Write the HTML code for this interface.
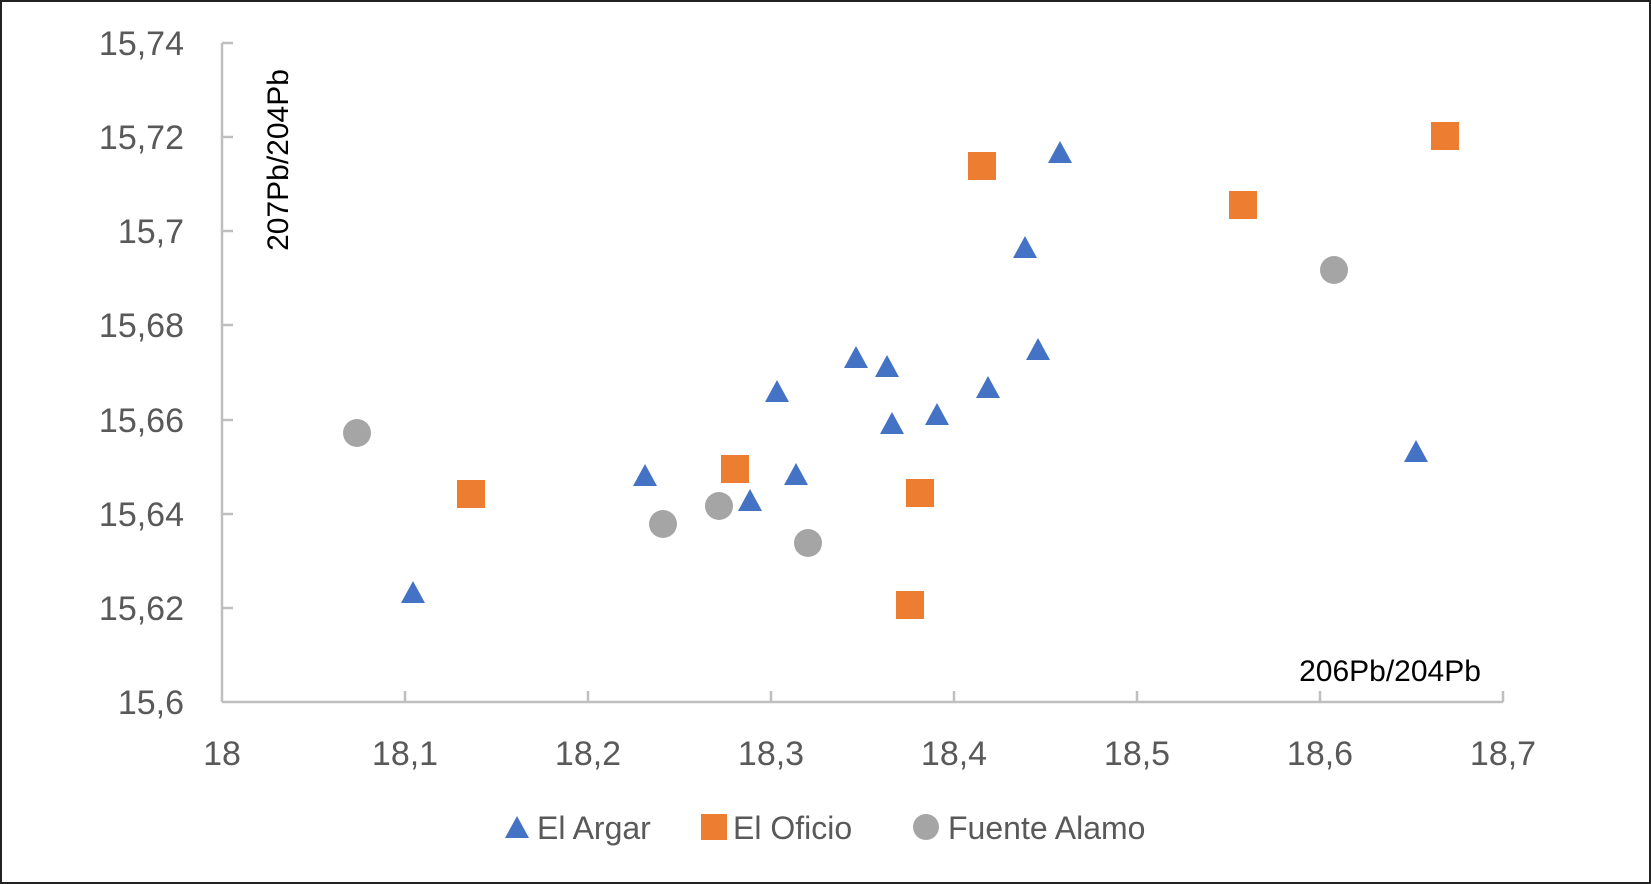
<!DOCTYPE html>
<html><head><style>
html,body{margin:0;padding:0;background:#fff}
svg{display:block}
</style></head><body>
<svg width="1651" height="884" viewBox="0 0 1651 884" xmlns="http://www.w3.org/2000/svg">
<rect x="1" y="1" width="1649" height="882" fill="#fff" stroke="#222" stroke-width="2"/>
<g stroke="#bfbfbf" stroke-width="2.5" fill="none">
<line x1="222" y1="43" x2="222" y2="702"/>
<line x1="222" y1="702" x2="1503" y2="702"/>
<line x1="222" y1="43" x2="233" y2="43"/>
<line x1="222" y1="137" x2="233" y2="137"/>
<line x1="222" y1="231" x2="233" y2="231"/>
<line x1="222" y1="325" x2="233" y2="325"/>
<line x1="222" y1="420" x2="233" y2="420"/>
<line x1="222" y1="514" x2="233" y2="514"/>
<line x1="222" y1="608" x2="233" y2="608"/>
<line x1="405" y1="691" x2="405" y2="702"/>
<line x1="588" y1="691" x2="588" y2="702"/>
<line x1="771" y1="691" x2="771" y2="702"/>
<line x1="954" y1="691" x2="954" y2="702"/>
<line x1="1137" y1="691" x2="1137" y2="702"/>
<line x1="1320" y1="691" x2="1320" y2="702"/>
<line x1="1503" y1="691" x2="1503" y2="702"/>
</g>
<g font-family="Liberation Sans, sans-serif" font-size="34" fill="#595959" text-anchor="end">
<text x="184" y="55">15,74</text>
<text x="184" y="149">15,72</text>
<text x="184" y="243">15,7</text>
<text x="184" y="337">15,68</text>
<text x="184" y="432">15,66</text>
<text x="184" y="526">15,64</text>
<text x="184" y="620">15,62</text>
<text x="184" y="714">15,6</text>
</g>
<g font-family="Liberation Sans, sans-serif" font-size="34" fill="#595959" text-anchor="middle">
<text x="222" y="765">18</text>
<text x="405" y="765">18,1</text>
<text x="588" y="765">18,2</text>
<text x="771" y="765">18,3</text>
<text x="954" y="765">18,4</text>
<text x="1137" y="765">18,5</text>
<text x="1320" y="765">18,6</text>
<text x="1503" y="765">18,7</text>
</g>
<text transform="translate(288,160) rotate(-90)" text-anchor="middle" font-family="Liberation Sans, sans-serif" font-size="30" fill="#000">207Pb/204Pb</text>
<text x="1390" y="681" text-anchor="middle" font-family="Liberation Sans, sans-serif" font-size="30" fill="#000">206Pb/204Pb</text>
<g fill="#4472c4">
<polygon points="413,581 425,603 401,603"/>
<polygon points="645,464 657,486 633,486"/>
<polygon points="750,489 762,511 738,511"/>
<polygon points="777,380 789,402 765,402"/>
<polygon points="796,463 808,485 784,485"/>
<polygon points="856,346 868,368 844,368"/>
<polygon points="887,355 899,377 875,377"/>
<polygon points="892,412 904,434 880,434"/>
<polygon points="937,403 949,425 925,425"/>
<polygon points="988,376 1000,398 976,398"/>
<polygon points="1025,236 1037,258 1013,258"/>
<polygon points="1038,338 1050,360 1026,360"/>
<polygon points="1060,141 1072,163 1048,163"/>
<polygon points="1416,440 1428,462 1404,462"/>
</g>
<g fill="#ed7d31">
<rect x="457" y="480" width="28" height="28"/>
<rect x="721" y="455" width="28" height="28"/>
<rect x="906" y="479" width="28" height="28"/>
<rect x="896" y="591" width="28" height="28"/>
<rect x="968" y="152" width="28" height="28"/>
<rect x="1229" y="191" width="28" height="28"/>
<rect x="1431" y="122" width="28" height="28"/>
</g>
<g fill="#a5a5a5">
<circle cx="357" cy="433" r="14"/>
<circle cx="663" cy="524" r="14"/>
<circle cx="719" cy="506" r="14"/>
<circle cx="808" cy="543" r="14"/>
<circle cx="1334" cy="270" r="14"/>
</g>
<polygon points="517,816 529,838 505,838" fill="#4472c4"/>
<rect x="701" y="814" width="26" height="26" fill="#ed7d31"/>
<circle cx="926" cy="827" r="13" fill="#a5a5a5"/>
<g font-family="Liberation Sans, sans-serif" font-size="32" fill="#595959">
<text x="537" y="839">El Argar</text>
<text x="733" y="839">El Oficio</text>
<text x="948" y="839">Fuente Alamo</text>
</g>
</svg>
</body></html>
